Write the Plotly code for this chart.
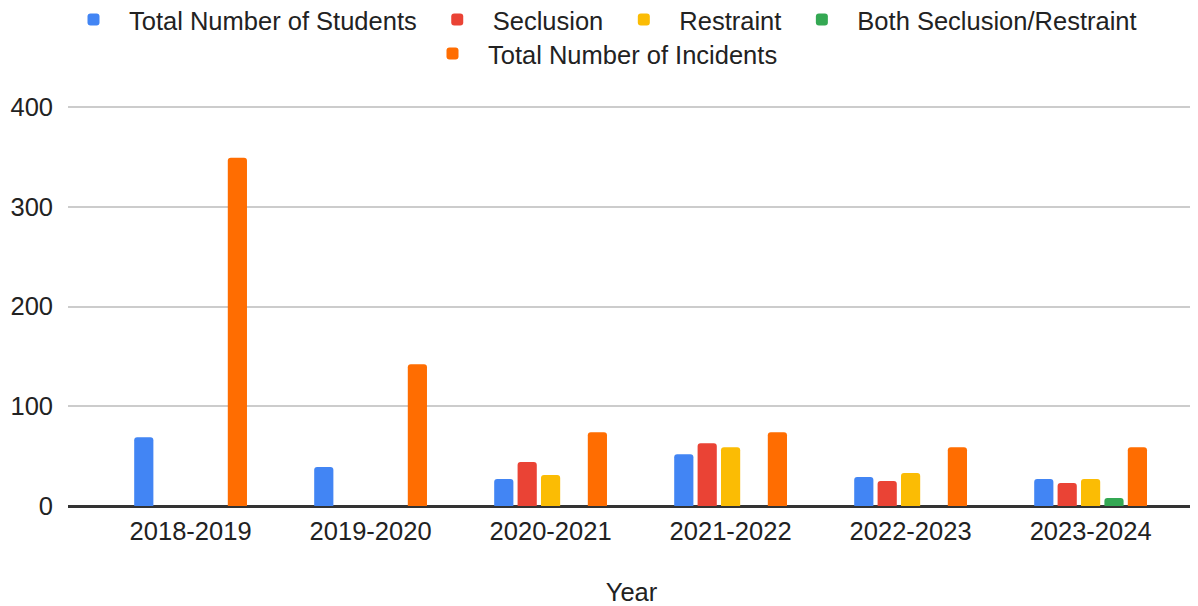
import plotly.graph_objects as go

years = ["2018-2019", "2019-2020", "2020-2021", "2021-2022", "2022-2023", "2023-2024"]
total_students = [69, 39, 27, 52, 29, 27]
seclusion = [None, None, 44, 63, 25, 23]
restraint = [None, None, 31, 59, 33, 27]
both = [None, None, None, None, None, 8]
total_incidents = [349, 142, 74, 74, 59, 59]

series = [
    ("Total Number of Students", total_students, "#4285F4", "legend"),
    ("Seclusion", seclusion, "#EA4335", "legend"),
    ("Restraint", restraint, "#FBBC04", "legend"),
    ("Both Seclusion/Restraint", both, "#34A853", "legend"),
    ("Total Number of Incidents", total_incidents, "#FF6D01", "legend2"),
]

fig = go.Figure()
for name, vals, color, lg in series:
    fig.add_trace(go.Bar(x=years, y=vals, name=name, legend=lg,
                         marker=dict(color=color, cornerradius=3, line=dict(width=0))))

# the page adds an 8px body margin, so the figure is sized to the visible area
W, H = 1190, 598
font = "Liberation Sans, Arial, sans-serif"
fs = 25.5
txt = "#222222"
leg_common = dict(orientation="h", xref="container", yref="container",
                  xanchor="center", yanchor="middle",
                  font=dict(size=fs, color=txt), itemwidth=61, traceorder="normal",
                  bgcolor="rgba(0,0,0,0)")
fig.update_layout(
    width=W, height=H,
    margin=dict(l=60, r=3, t=97, b=100, autoexpand=False),
    paper_bgcolor="white", plot_bgcolor="white",
    font=dict(family=font, size=fs, color=txt),
    barmode="group", bargap=0.35, bargroupgap=0.18,
    legend=dict(x=592 / W, y=1 - 12 / H, **leg_common),
    legend2=dict(x=592 / W, y=1 - 46 / H, **leg_common),
    xaxis=dict(range=[-0.681, 5.580], showgrid=False, ticks="", showline=False,
               tickfont=dict(size=fs, color=txt), ticklabelstandoff=7,
               title=dict(text="Year", font=dict(size=fs, color=txt), standoff=44)),
    yaxis=dict(range=[0, 402], tickvals=[0, 100, 200, 300, 400], showgrid=True,
               gridcolor="#cccccc", gridwidth=1.5,
               zeroline=True, zerolinecolor="#333333", zerolinewidth=2.5,
               tickfont=dict(size=fs, color=txt), ticks="", ticklabelstandoff=14),
)

fig.write_html("out.html")
